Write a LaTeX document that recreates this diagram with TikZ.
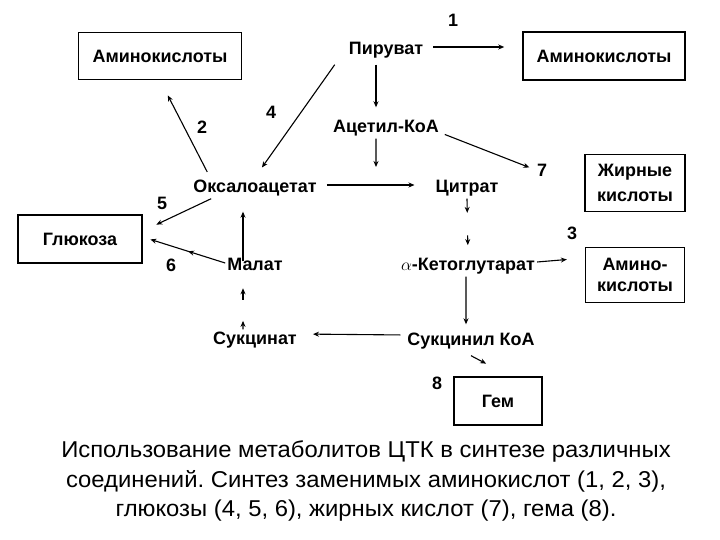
\documentclass[tikz,border=0pt]{standalone}
\usepackage{fontspec}
\setmainfont{Liberation Sans}
\newfontfamily\capfamily[FakeStretch=1.04]{Liberation Sans}
\usetikzlibrary{arrows.meta,calc,decorations.markings}

\newcommand\metfont{\fontsize{18}{25}\selectfont\bfseries}
\newcommand\capfont{\capfamily\fontsize{23}{29.5}\selectfont\frenchspacing}

\tikzset{
  met/.style={font=\metfont, inner sep=2bp, text height=13bp, text depth=4bp},
  box/.style={draw, line width=1.5bp, font=\metfont, align=center, inner sep=2bp},
  num/.style={font=\metfont, inner sep=1bp},
  arr/.style={-{Stealth[length=6bp,width=5bp]}, line width=1.1bp},
  mid arrow/.style={decoration={markings,
      mark=at position 0.45 with {\arrow{Stealth[length=6bp,width=5bp]}}},
    postaction={decorate}},
}

\begin{document}
\begin{tikzpicture}[x=1bp, y=-1bp]
\useasboundingbox (0,0) rectangle (720,540);

% boxes
\node[box, minimum width=163bp, minimum height=47bp] (amA) at (160,56) {Аминокислоты};
\node[box, minimum width=162bp, minimum height=48bp] (amB) at (604,56) {Аминокислоты};
\node[box, minimum width=100bp, minimum height=57bp] (fat) at (635,183) {Жирные\\кислоты};
\node[box, minimum width=99bp, minimum height=55bp] (amC) at (635,275) {Амино-\\[-4bp]кислоты};
\node[box, minimum width=124bp, minimum height=48bp] (glu) at (80,239) {Глюкоза};
\node[box, minimum width=88bp, minimum height=48bp] (gem) at (498,401) {Гем};

% metabolites
\node[met] (pyr) at (386,50) {Пируват};
\node[met] (acoa) at (386,128) {Ацетил-КоА};
\node[met] (oxa) at (255,188) {Оксалоацетат};
\node[met] (cit) at (467,188) {Цитрат};
\node[met] (akg) at (468,266) {$\alpha$-Кетоглутарат};
\node[met] (suca) at (471,341) {Сукцинил КоА};
\node[met] (suc) at (255,340) {Сукцинат};
\node[met] (mal) at (255,266) {Малат};
\coordinate (join) at (376,167);
\coordinate (pyrE) at ([yshift=3bp]pyr.east);
\coordinate (oxaE) at ([yshift=3bp]oxa.east);

% numbers
\node[num] (n1) at (453,20) {1};
\node[num] (n2) at (202,127) {2};
\node[num] (n3) at (572,233) {3};
\node[num] (n4) at (271,112) {4};
\node[num] (n5) at (162,203) {5};
\node[num] (n6) at (171,265) {6};
\node[num] (n7) at (542,170) {7};
\node[num] (n8) at (437,383) {8};

% arrows
\draw[arr, shorten <=8bp, shorten >=18bp] (pyrE) -- (pyrE -| amB.west);
\draw[arr, shorten <=4bp, shorten >=10bp] ([xshift=-10bp]pyr.south) -- ([xshift=-10bp]acoa.north);
\draw[arr] ([xshift=-10bp]acoa.south) -- (join);
\draw[arr, shorten <=8bp, shorten >=19bp] (oxaE) -- (oxaE -| cit.west);
\draw[arr, shorten >=12bp] ([xshift=-12bp,yshift=-4bp]pyr.south west) -- (oxa.north);
\draw[arr, shorten <=6bp, shorten >=17bp] ([xshift=-45bp]oxa.north) -- (amA.south);
\draw[arr, shorten <=4bp, shorten >=7bp] ([yshift=-5bp]acoa.east) -- (n7.west);
\draw[arr, shorten >=18bp] ([yshift=4bp]akg.east) -- ([yshift=17bp]amC.west);
\draw[arr, shorten >=6bp] ([xshift=-2bp]akg.south) -- ([xshift=-5bp]suca.north);
\draw[arr] (cit.south) -- ($(cit.south)!0.25!(akg.north)$);
\draw[arr] ($(cit.south)!0.65!(akg.north)$) -- ($(cit.south)!0.82!(akg.north)$);
\draw[arr, shorten <=5bp, shorten >=14bp] ([yshift=6bp]suca.west) -- ([yshift=6bp]suc.east);
\draw[arr] ([xshift=-12bp]suc.north) -- ($([xshift=-12bp]suc.north)!0.16!([xshift=-12bp]mal.south)$);
\draw[arr] ($([xshift=-12bp]suc.north)!0.56!([xshift=-12bp]mal.south)$) -- ($([xshift=-12bp]suc.north)!0.78!([xshift=-12bp]mal.south)$);
\draw[arr, shorten >=13bp] ([xshift=-12bp,yshift=-6bp]mal.north) -- ([xshift=-12bp]oxa.south);
\draw[arr, shorten >=15bp] ([xshift=20bp]oxa.south west) -- ([yshift=8bp]glu.east);
\draw[arr, mid arrow, shorten >=8bp] ([yshift=3bp]mal.west) -- ([yshift=2bp]glu.east);
\draw[arr, shorten >=27bp] ([yshift=-4bp]suca.south) -- ([xshift=12bp]gem.north);

% caption
\node[font=\capfont, align=center] (cap) at (366,481) {Использование метаболитов ЦТК в синтезе различных\\соединений. Синтез заменимых аминокислот (1, 2, 3),\\глюкозы (4, 5, 6), жирных кислот (7), гема (8).};
\end{tikzpicture}
\end{document}
